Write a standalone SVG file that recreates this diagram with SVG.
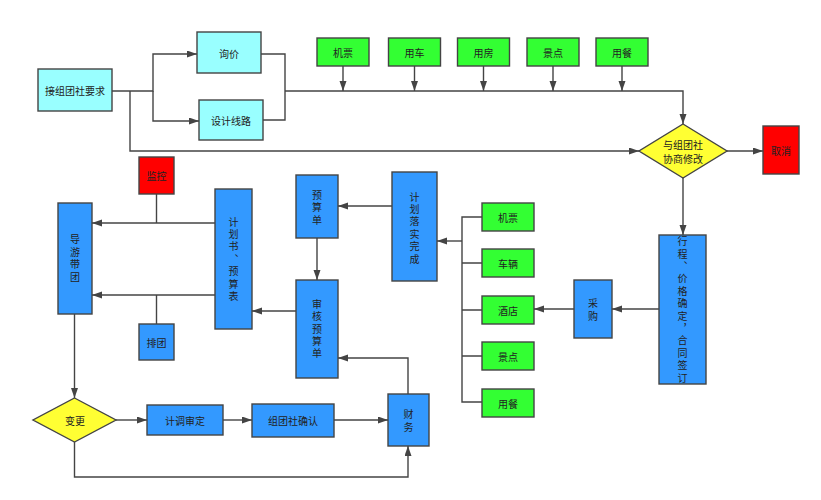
<svg xmlns="http://www.w3.org/2000/svg" width="821" height="500" viewBox="0 0 821 500">
<style>
.n{stroke:#444;stroke-width:1.4}
.cy{fill:#99ffff}.gr{fill:#33ff33}.bl{fill:#3399ff}.ye{fill:#ffff33}.rd{fill:#ff0000}
text{font-family:"Noto Sans CJK SC","Noto Sans",sans-serif;font-size:10px;fill:#222;text-anchor:middle;dominant-baseline:central}
.v{writing-mode:vertical-rl;letter-spacing:2.4px}
.c path{fill:none;stroke:#444;stroke-width:1.4}
.a{marker-end:url(#ah)}
</style>
<defs>
<marker id="ah" markerUnits="userSpaceOnUse" markerWidth="10" markerHeight="8" refX="10" refY="3.5" orient="auto">
<path d="M0,0 L10,3.5 L0,7 z" fill="#444"/>
</marker>
</defs>
<rect width="821" height="500" fill="#fff"/>
<g class="c">
<path class="a" d="M112,91 H153 V54 H197"/>
<path class="a" d="M153,91 V121 H199"/>
<path class="a" d="M130,91 V151 H639"/>
<path d="M261,54 H285 V120 H263"/>
<path class="a" d="M285,91 H683 V124"/>
<path class="a" d="M343,66 V91"/>
<path class="a" d="M414.5,66 V91"/>
<path class="a" d="M483.5,66 V91"/>
<path class="a" d="M553,66 V91"/>
<path class="a" d="M622,66 V91"/>
<path class="a" d="M727,151 H763"/>
<path class="a" d="M683,178 V235"/>
<path class="a" d="M659,309 H612"/>
<path class="a" d="M574,309 H534"/>
<path d="M482,217 H462 V402 H482 M462,263 H482 M462,310 H482 M462,356 H482"/>
<path class="a" d="M462,241 H437"/>
<path class="a" d="M392,206 H338"/>
<path class="a" d="M317,238 V280"/>
<path class="a" d="M296,311 H252"/>
<path class="a" d="M215,223 H92"/>
<path d="M156.5,194 V223"/>
<path class="a" d="M215,295 H92"/>
<path d="M156.5,324 V295"/>
<path class="a" d="M74.5,314 V398"/>
<path class="a" d="M116,420 H147"/>
<path class="a" d="M223,420 H252"/>
<path class="a" d="M334,420 H388"/>
<path class="a" d="M74.5,442 V477 H408 V446"/>
<path class="a" d="M408,394 V358 H338"/>
</g>
<g id="jiezutuan"><rect class="n cy" x="38" y="69" width="74" height="42"/><text x="75" y="90">接组团社要求</text></g>
<g id="xunjia"><rect class="n cy" x="197" y="32" width="64" height="41"/><text x="229" y="53">询价</text></g>
<g id="sheji"><rect class="n cy" x="199" y="100" width="64" height="40"/><text x="231" y="120">设计线路</text></g>
<g id="g-jipiao"><rect class="n gr" x="317" y="38" width="52" height="28"/><text x="343" y="52">机票</text></g>
<g id="g-yongche"><rect class="n gr" x="388.5" y="38" width="52" height="28"/><text x="414.5" y="52">用车</text></g>
<g id="g-yongfang"><rect class="n gr" x="457.5" y="38" width="52" height="28"/><text x="483.5" y="52">用房</text></g>
<g id="g-jingdian"><rect class="n gr" x="527" y="38" width="52" height="28"/><text x="553" y="52">景点</text></g>
<g id="g-yongcan"><rect class="n gr" x="596" y="38" width="52" height="28"/><text x="622" y="52">用餐</text></g>
<g id="xieshang"><path class="n ye" d="M683,124 L727,151 L683,178 L639,151 z"/><text x="683" y="144">与组团社</text><text x="683" y="158">协商修改</text></g>
<g id="quxiao"><rect class="n rd" x="763" y="126" width="36" height="48"/><text x="781" y="150">取消</text></g>
<g id="xingcheng"><rect class="n bl" x="659" y="235" width="47" height="149"/><text class="v" x="682.5" y="310.9">行程、价格确定，合同签订</text></g>
<g id="caigou"><rect class="n bl" x="574" y="280" width="38" height="58"/><text class="v" x="593" y="311">采购</text></g>
<g id="r-jipiao"><rect class="n gr" x="482" y="203" width="52" height="28"/><text x="508" y="217">机票</text></g>
<g id="r-cheliang"><rect class="n gr" x="482" y="249" width="52" height="28"/><text x="508" y="263">车辆</text></g>
<g id="r-jiudian"><rect class="n gr" x="482" y="296" width="52" height="28"/><text x="508" y="310">酒店</text></g>
<g id="r-jingdian"><rect class="n gr" x="482" y="342" width="52" height="28"/><text x="508" y="356">景点</text></g>
<g id="r-yongcan"><rect class="n gr" x="482" y="389" width="52" height="28"/><text x="508" y="403">用餐</text></g>
<g id="jihualuoshi"><rect class="n bl" x="392" y="172" width="45" height="109"/><text class="v" x="414.5" y="229">计划落实完成</text></g>
<g id="yusuandan"><rect class="n bl" x="296" y="175" width="42" height="63"/><text class="v" x="317" y="208.7">预算单</text></g>
<g id="shenhe"><rect class="n bl" x="296" y="280" width="42" height="98"/><text class="v" x="317" y="330.1">审核预算单</text></g>
<g id="jihuashu"><rect class="n bl" x="215" y="189" width="37" height="140"/><text class="v" x="233.5" y="260.2">计划书、预算表</text></g>
<g id="jiankong"><rect class="n rd" x="139" y="157" width="35" height="37"/><text x="156.5" y="175.5">监控</text></g>
<g id="paituan"><rect class="n bl" x="139" y="324" width="35" height="36"/><text x="156.5" y="342">排团</text></g>
<g id="daoyou"><rect class="n bl" x="58" y="203" width="34" height="111"/><text class="v" x="75" y="259.4">导游带团</text></g>
<g id="biangeng"><path class="n ye" d="M74.5,398 L116,420 L74.5,442 L33,420 z"/><text x="75" y="420">变更</text></g>
<g id="jidiao"><rect class="n bl" x="147" y="405" width="76" height="30"/><text x="185" y="420">计调审定</text></g>
<g id="queren"><rect class="n bl" x="252" y="404" width="82" height="33"/><text x="293" y="420">组团社确认</text></g>
<g id="caiwu"><rect class="n bl" x="388" y="394" width="41" height="52"/><text class="v" x="408.5" y="422">财务</text></g>
</svg>
